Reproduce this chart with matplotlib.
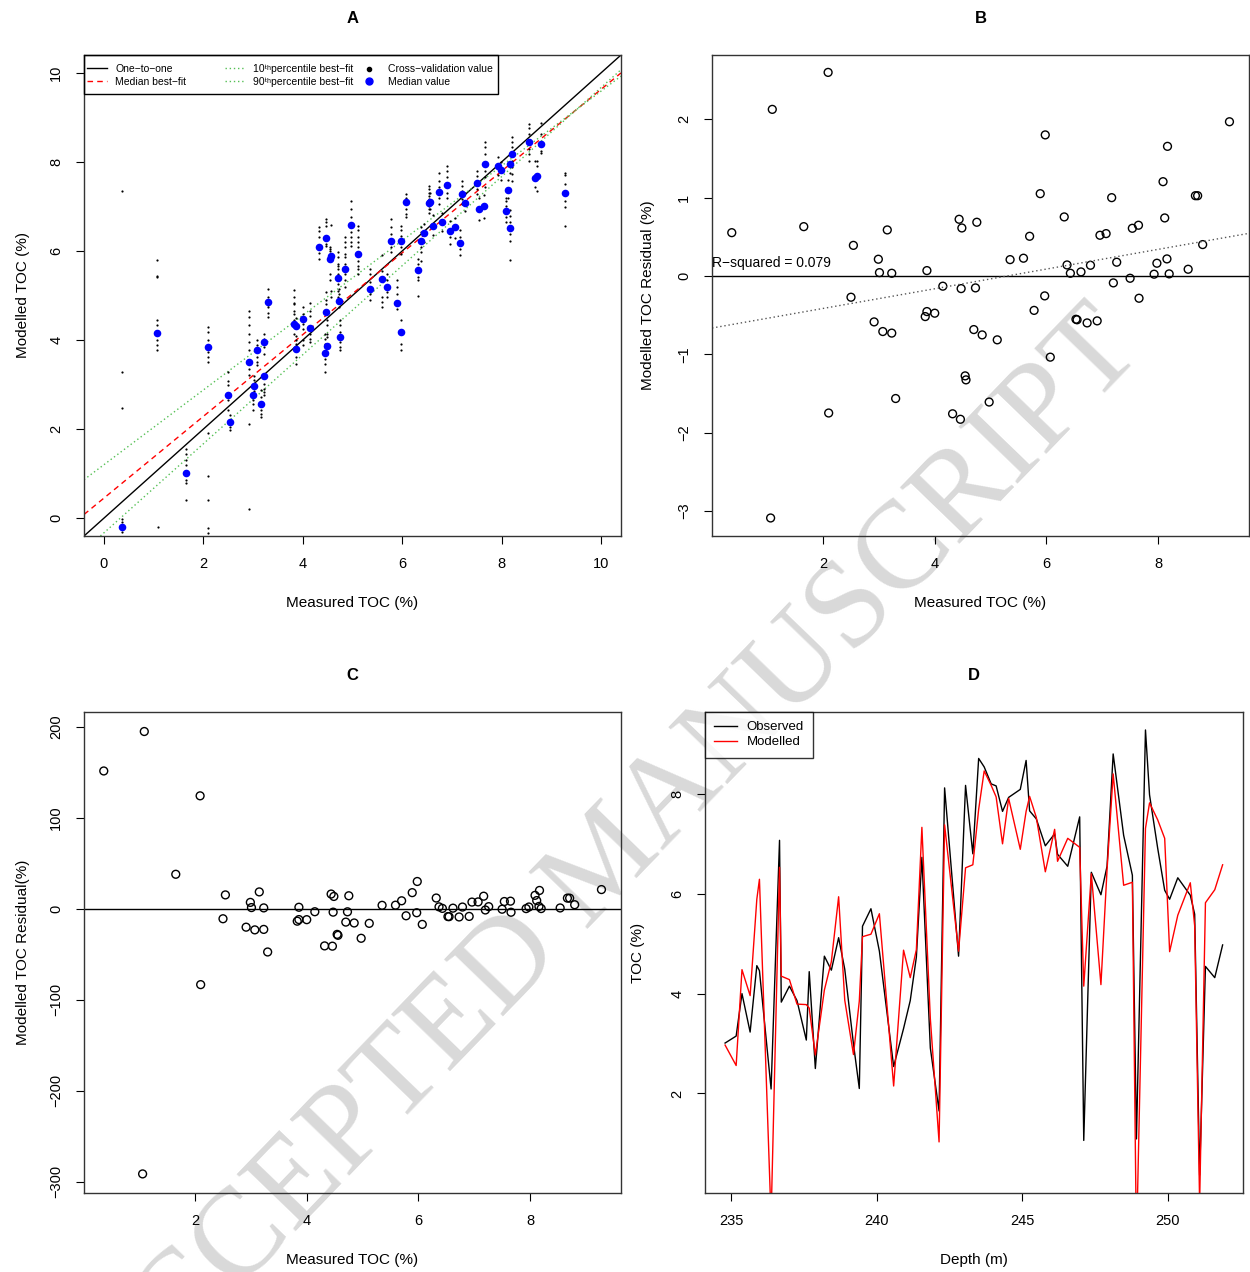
import numpy as np
import matplotlib
matplotlib.use('Agg')
import matplotlib.pyplot as plt
from matplotlib.lines import Line2D
from matplotlib.patches import Rectangle

plt.rcParams.update({
    'font.family': ['Liberation Sans', 'DejaVu Sans'],
    'font.size': 10.5,
    'axes.linewidth': 1.0,
    'xtick.major.size': 6,
    'ytick.major.size': 6,
    'xtick.major.pad': 9,
    'ytick.major.pad': 9,
    'xtick.labelsize': 10.5,
    'ytick.labelsize': 10.5,
    'axes.labelsize': 11,
})

# measured TOC (%) and residual (measured - modelled), one entry per sample
measured = [0.364, 1.06, 1.09, 1.654, 2.09, 2.10, 2.50, 2.543, 2.914, 2.99,
            3.01, 3.07, 3.15, 3.23, 3.23, 3.30, 3.83, 3.86, 3.86, 4.00,
            4.145, 4.32, 4.437, 4.46, 4.473, 4.486, 4.545, 4.56, 4.70, 4.73,
            4.754, 4.85, 4.975, 5.12, 5.35, 5.59, 5.70, 5.78, 5.89, 5.97,
            5.98, 6.07, 6.32, 6.37, 6.43, 6.53, 6.55, 6.62, 6.73, 6.79,
            6.91, 6.96, 7.07, 7.17, 7.20, 7.26, 7.50, 7.54, 7.65, 7.66,
            7.93, 7.98, 8.09, 8.12, 8.16, 8.17, 8.20, 8.54, 8.67, 8.71,
            8.80, 9.28]
residual = [0.552, -3.09, 2.126, 0.629, 2.598, -1.75, -0.272, 0.39, -0.587, 0.213,
            0.042, -0.71, 0.587, 0.034, -0.73, -1.565, -0.519, 0.068, -0.455, -0.476,
            -0.131, -1.76, 0.723, -1.83, -0.162, 0.612, -1.276, -1.327, -0.685, -0.153,
            0.685, -0.753, -1.61, -0.816, 0.208, 0.226, 0.506, -0.44, 1.05, -0.255,
            1.80, -1.037, 0.753, 0.14, 0.034, -0.553, -0.56, 0.051, -0.60, 0.136,
            -0.574, 0.519, 0.54, 0.999, -0.089, 0.175, -0.03, 0.608, 0.647, -0.285,
            0.022, 0.162, 1.203, 0.740, 0.217, 1.654, 0.026, 0.085, 1.024, 1.024,
            0.40, 1.968]

# cross-validation predictions for each sample (same order as measured)
cv_values = [
    [7.35, 3.28, 2.48, -0.01, -0.08, -0.31],
    [5.80, 5.43, 5.41, 4.44, 4.33, 3.99, 3.88, 3.78],
    [-0.19],
    [1.56, 1.45, 1.30, 1.19, 0.85, 0.78, 0.40],
    [1.91, 0.95, 0.40, -0.23, -0.33],
    [4.29, 4.18, 3.99, 3.73, 3.62, 3.50],
    [3.28, 3.09, 2.98, 2.65, 2.42],
    [2.31, 2.05, 1.97],
    [4.66, 4.51, 4.33, 4.14, 3.95, 3.77, 3.36, 3.21, 2.12, 0.20],
    [2.94, 2.65, 2.57, 2.42],
    [3.20, 3.10, 2.85],
    [3.99, 3.88, 3.62, 3.50, 3.43],
    [2.87, 2.72, 2.42, 2.35, 2.27],
    [3.02, 2.91, 2.83, 2.76],
    [4.14, 4.03, 3.84, 3.69],
    [5.15, 4.96, 4.78, 4.74, 4.61, 4.51],
    [5.13, 4.96, 4.83, 4.81, 4.66, 4.59, 4.44, 4.14],
    [3.99, 3.92, 3.62, 3.47],
    [4.50, 4.10],
    [4.74, 4.59, 4.36, 4.25, 3.99, 3.88],
    [4.83, 4.66, 4.55, 4.14, 4.03, 3.95],
    [6.53, 6.44, 6.32, 5.95, 5.82],
    [4.14, 4.03, 3.92, 3.58, 3.47, 3.28],
    [6.72, 6.64, 6.55, 6.16, 6.11],
    [5.07, 4.89, 4.80],
    [4.44, 4.33, 4.14, 4.07, 3.69],
    [6.10, 6.05, 5.99, 5.49, 5.34],
    [6.59, 5.11, 4.96],
    [5.97, 5.86, 5.71, 5.67, 5.60, 5.49, 5.26, 5.11, 4.96],
    [5.15, 5.04, 4.74],
    [4.44, 4.33, 4.18, 3.95, 3.84, 3.77],
    [6.31, 6.20, 6.08, 5.93, 5.86, 5.71, 5.49, 5.34, 5.19],
    [7.13, 6.94, 6.76, 6.42, 6.31, 6.20, 6.12],
    [6.57, 6.46, 6.31, 6.20, 6.08, 5.78, 5.67, 5.60, 5.49],
    [5.60, 5.49, 5.30, 5.04, 4.89],
    [5.90, 5.56, 4.96, 4.85, 4.75],
    [5.49, 5.34, 5.07, 4.96],
    [6.71, 6.53, 6.38, 6.08, 5.97],
    [5.34, 5.19, 5.04, 4.70],
    [6.57, 6.46, 6.34, 6.08, 5.93],
    [4.45, 3.90, 3.77],
    [7.29, 7.18, 6.95, 6.83, 6.76],
    [5.82, 5.71, 5.41, 5.34, 4.98],
    [6.53, 6.42, 6.08, 5.97, 5.78],
    [6.60, 6.20],
    [7.46, 7.39, 7.31, 7.24, 7.16, 7.01, 6.94, 6.86],
    [7.30, 6.95],
    [6.80, 6.35],
    [7.76, 7.58, 7.43, 7.20, 7.05],
    [6.85, 6.45],
    [7.91, 7.80, 7.65, 7.31, 7.20],
    [6.68, 6.31, 6.16],
    [6.75, 6.30],
    [6.46, 6.31, 6.05, 5.90],
    [7.58, 7.46, 7.35, 7.16, 7.05],
    [7.30, 6.90],
    [7.80, 7.69, 7.39, 7.28],
    [7.20, 6.70],
    [7.25, 6.75],
    [8.44, 8.33, 8.18, 7.80, 7.65, 7.43],
    [8.10, 7.70],
    [8.00, 7.60],
    [7.20, 7.13, 7.01, 6.76, 6.64],
    [7.60, 7.20],
    [8.15, 7.75],
    [6.91, 6.79, 6.64, 6.38, 6.23, 5.79],
    [8.55, 8.44, 8.33, 8.03, 7.88, 7.73, 7.58],
    [8.86, 8.77, 8.62, 8.29, 8.18, 8.03],
    [8.03, 7.43],
    [8.03, 7.91, 7.35],
    [8.88, 8.62, 8.25, 8.21],
    [7.76, 7.71, 7.50, 7.13, 6.98, 6.56],
]

# best-fit lines in panel A (intercept, slope)
fit_median = (0.45, 0.918)
fit_p10 = (1.20, 0.839)
fit_p90 = (-0.33, 1.0)
r_squared = 0.079

# depth profile (panel D)
depth = [234.79, 235.17, 235.37, 235.65, 235.88, 235.97, 236.37, 236.66, 236.72, 237.00,
         237.26, 237.58, 237.68, 237.89, 238.20, 238.44, 238.69, 238.90, 239.20, 239.40,
         239.51, 239.80, 240.09, 240.58, 240.92, 241.15, 241.36, 241.55, 241.84, 242.14,
         242.33, 242.81, 243.05, 243.30, 243.50, 243.69, 243.93, 244.10, 244.32, 244.53,
         244.93, 245.13, 245.25, 245.48, 245.79, 246.11, 246.21, 246.56, 246.97, 247.11,
         247.37, 247.70, 247.91, 248.12, 248.48, 248.78, 248.92, 249.23, 249.37, 249.65,
         249.89, 250.06, 250.34, 250.77, 250.92, 251.09, 251.29, 251.61, 251.88]
toc_observed = [3.01, 3.15, 4.00, 3.23, 4.56, 4.46, 2.09, 7.07, 3.83, 4.15,
                3.86, 3.07, 4.44, 2.50, 4.75, 4.47, 5.12, 4.49, 2.99, 2.10,
                5.35, 5.70, 4.85, 2.54, 3.30, 3.86, 4.73, 6.73, 2.91, 1.65,
                8.12, 4.75, 8.17, 6.80, 8.71, 8.54, 8.20, 8.16, 7.65, 7.93,
                8.09, 8.67, 7.66, 7.50, 6.96, 7.20, 6.79, 6.55, 7.54, 1.06,
                6.43, 5.98, 6.55, 8.80, 7.17, 6.37, 1.09, 9.28, 7.98, 6.91,
                6.07, 5.89, 6.32, 5.97, 5.59, 0.364, 4.545, 4.32, 4.975]
toc_modelled = [2.97, 2.56, 4.48, 3.96, 5.89, 6.29, -0.51, 6.53, 4.35, 4.28,
                3.79, 3.78, 3.71, 2.77, 4.07, 4.64, 5.94, 3.87, 2.78, 3.85,
                5.14, 5.19, 5.60, 2.15, 4.87, 4.32, 4.88, 7.33, 3.50, 1.03,
                7.38, 4.85, 6.52, 6.58, 7.69, 8.46, 8.17, 7.94, 7.00, 7.91,
                6.89, 7.65, 7.95, 7.53, 6.44, 7.29, 6.65, 7.11, 6.93, 4.15,
                6.40, 4.18, 6.48, 8.40, 6.17, 6.23, -1.04, 7.31, 7.82, 7.48,
                7.11, 4.84, 5.57, 6.22, 5.36, -0.19, 5.82, 6.08, 6.58]

measured = np.array(measured)
residual = np.array(residual)
modelled = measured - residual
resid_pct = residual / measured * 100
cv_x = np.concatenate([[m] * len(v) for m, v in zip(measured, cv_values)])
cv_y = np.concatenate(cv_values)


def r_style(ax):
    ax.tick_params(axis='y', labelrotation=90)
    for lab in ax.get_yticklabels():
        lab.set_va('center')
    for s in ax.spines.values():
        s.set_color('#333333')


fig = plt.figure(figsize=(12.5, 12.72), dpi=100)
W, H = 1250, 1272


def add_axes(l, t, r, b):
    return fig.add_axes([l / W, 1 - b / H, (r - l) / W, (b - t) / H])


ax_a = add_axes(84, 55, 621, 536)
ax_b = add_axes(712, 55, 1249, 536)
ax_c = add_axes(84, 712, 621, 1193)
ax_d = add_axes(705, 712, 1243, 1193)
for ax in (ax_a, ax_b, ax_c, ax_d):
    ax.set_facecolor('none')

TITLE_PAD = 23
XPAD = 18

# ---- A ----
GREEN = '#55c055'
ax_a.axline((0, 0), slope=1, color='black', lw=1.0)
ax_a.axline((0, fit_median[0]), slope=fit_median[1], color='red', lw=1.0, ls=(0, (4, 3)))
ax_a.axline((0, fit_p10[0]), slope=fit_p10[1], color=GREEN, lw=1.0, ls=(0, (1, 2)))
ax_a.axline((0, fit_p90[0]), slope=fit_p90[1], color=GREEN, lw=1.0, ls=(0, (1, 2)))
ax_a.scatter(cv_x, cv_y, s=2.5, color='black', lw=0, zorder=3)
ax_a.scatter(measured, modelled, s=30, color='blue', zorder=4, lw=0)
ax_a.set_xlim(-0.4, 10.4)
ax_a.set_ylim(-0.4, 10.4)
ax_a.set_xticks([0, 2, 4, 6, 8, 10])
ax_a.set_yticks([0, 2, 4, 6, 8, 10])
ax_a.set_xlabel('Measured TOC (%)', labelpad=XPAD)
ax_a.set_ylabel('Modelled TOC (%)', labelpad=14)
ax_a.set_title('A', fontweight='bold', fontsize=12, pad=TITLE_PAD)

leg_kw = dict(loc='upper left', fontsize=7.5, frameon=False, borderaxespad=0,
              handlelength=1.9, handletextpad=0.85, labelspacing=0.32)
col1 = ax_a.legend([Line2D([], [], color='black', lw=1.0),
                    Line2D([], [], color='red', lw=1.0, ls=(0, (4, 3)))],
                   ['One\u2212to\u2212one', 'Median best\u2212fit'],
                   bbox_to_anchor=(-6 / 537, 1.0), borderpad=0.84, **leg_kw)
ax_a.add_artist(col1)
col2 = ax_a.legend([Line2D([], [], color=GREEN, lw=1.0, ls=(0, (1, 2))),
                    Line2D([], [], color=GREEN, lw=1.0, ls=(0, (1, 2)))],
                   ['10\u1d57\u02b0percentile best\u2212fit',
                    '90\u1d57\u02b0percentile best\u2212fit'],
                   bbox_to_anchor=((216 - 84) / 537, 1.0), borderpad=0.84, **leg_kw)
ax_a.add_artist(col2)
col3 = ax_a.legend([Line2D([], [], color='black', marker='o', ms=3, ls='none'),
                    Line2D([], [], color='blue', marker='o', ms=5, ls='none')],
                   ['Cross\u2212validation value', 'Median value'],
                   bbox_to_anchor=((350 - 84) / 537, 1.0), borderpad=0.9,
                   **{**leg_kw, 'labelspacing': 0.22})
ax_a.add_patch(Rectangle((0, (536 - 94) / 481), (498 - 84) / 537, 1 - (536 - 94) / 481,
                         transform=ax_a.transAxes, fill=False, edgecolor='black',
                         lw=1.0, zorder=5, clip_on=False))
r_style(ax_a)

# ---- B ----
ax_b.scatter(measured, residual, s=32, facecolors='none', edgecolors='black', lw=1.0)
ax_b.axhline(0, color='black', lw=1.0)
slope, icpt = np.polyfit(measured, residual, 1)
ax_b.axline((0, icpt), slope=slope, color='#555555', lw=1.0, ls=(0, (1, 2)))
ax_b.text(0.0, 0.075, f'R\u2212squared = {r_squared}', transform=ax_b.get_yaxis_transform(),
          ha='left', va='bottom', fontsize=10)
ax_b.set_xlim(0.01, 9.63)
ax_b.set_ylim(-3.32, 2.82)
ax_b.set_xticks([2, 4, 6, 8])
ax_b.set_yticks([-3, -2, -1, 0, 1, 2])
ax_b.set_yticklabels(['\u22123', '\u22122', '\u22121', '0', '1', '2'])
ax_b.set_xlabel('Measured TOC (%)', labelpad=XPAD)
ax_b.set_ylabel('Modelled TOC Residual (%)', labelpad=16)
ax_b.set_title('B', fontweight='bold', fontsize=12, pad=TITLE_PAD)
r_style(ax_b)

# ---- C ----
ax_c.scatter(measured, resid_pct, s=32, facecolors='none', edgecolors='black', lw=1.0)
ax_c.axhline(0, color='black', lw=1.0)
ax_c.set_xlim(0.01, 9.63)
ax_c.set_ylim(-312.5, 216.5)
ax_c.set_xticks([2, 4, 6, 8])
ax_c.set_yticks([-300, -200, -100, 0, 100, 200])
ax_c.set_yticklabels(['\u2212300', '\u2212200', '\u2212100', '0', '100', '200'])
ax_c.set_xlabel('Measured TOC (%)', labelpad=XPAD)
ax_c.set_ylabel('Modelled TOC Residual(%)', labelpad=14)
ax_c.set_title('C', fontweight='bold', fontsize=12, pad=TITLE_PAD)
r_style(ax_c)

# ---- D ----
ax_d.plot(depth, toc_observed, color='black', lw=1.0, label='Observed')
ax_d.plot(depth, toc_modelled, color='red', lw=1.0, label='Modelled')
ax_d.set_xlim(234.1, 252.58)
ax_d.set_ylim(0.007, 9.64)
ax_d.set_xticks([235, 240, 245, 250])
ax_d.set_yticks([2, 4, 6, 8])
ax_d.set_xlabel('Depth (m)', labelpad=XPAD)
ax_d.set_ylabel('TOC (%)', labelpad=18)
ax_d.set_title('D', fontweight='bold', fontsize=12, pad=TITLE_PAD)
leg_d = ax_d.legend(loc='upper left', fontsize=9.5, borderaxespad=0, fancybox=False,
                    edgecolor='black', handlelength=1.75, handletextpad=0.7,
                    labelspacing=0.2, borderpad=0.7)
leg_d.get_frame().set_linewidth(1.0)
r_style(ax_d)

# watermark
fig.text(0.487, 0.321, 'ACCEPTED MANUSCRIPT', family=['Liberation Serif', 'DejaVu Serif'],
         fontsize=90, color='#d9d9d9', rotation=46, ha='center', va='center', zorder=-1)

fig.savefig('out.png', dpi=100, facecolor='white')
